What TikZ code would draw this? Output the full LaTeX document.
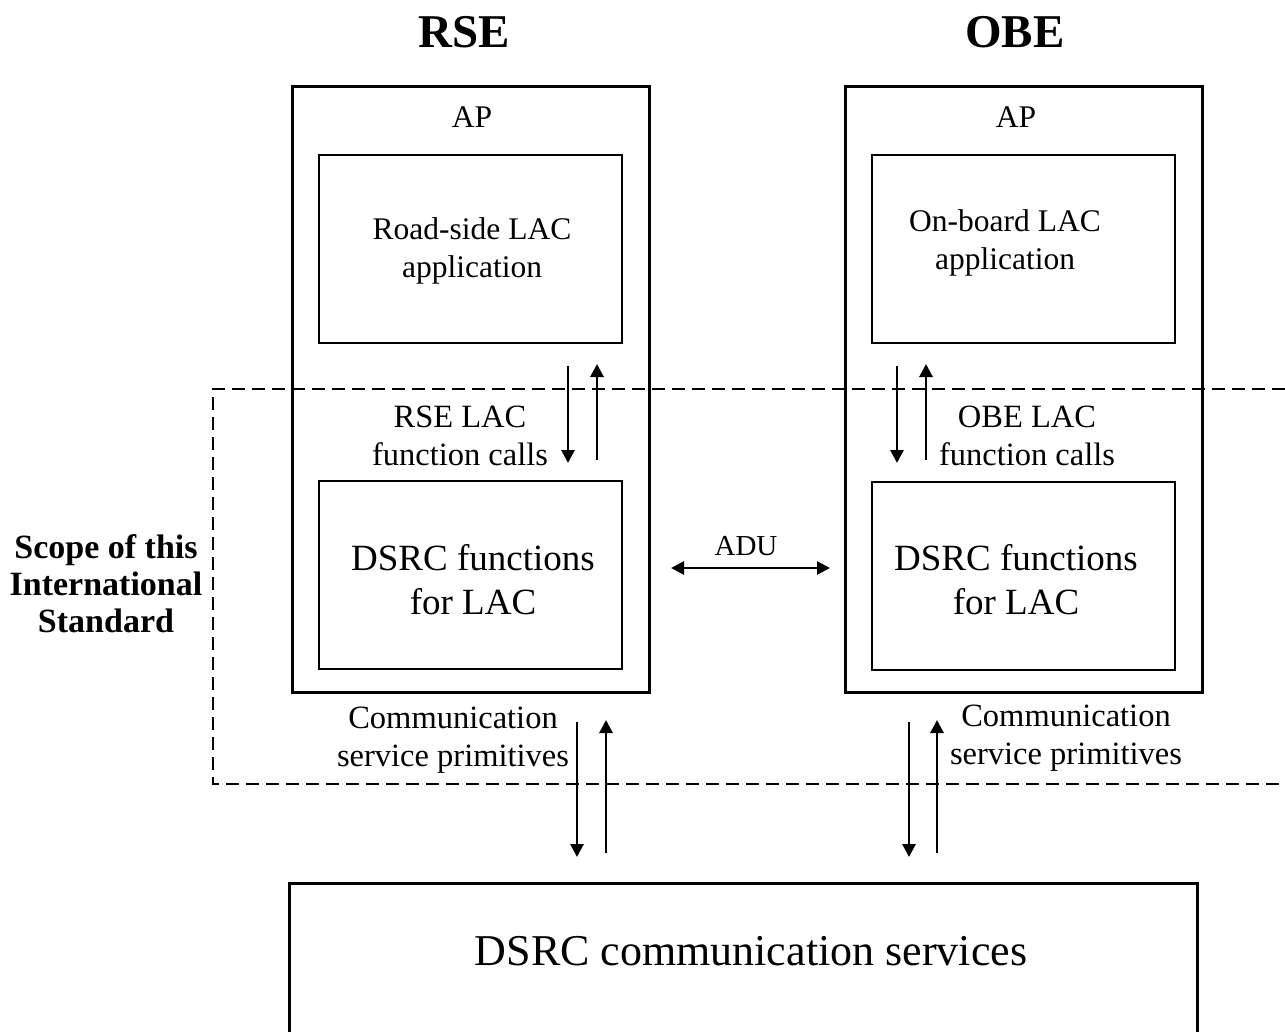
\documentclass[tikz,border=0pt]{standalone}
\usepackage{fontspec}
\setmainfont{Liberation Serif}
\usetikzlibrary{arrows.meta}
\begin{document}
\begin{tikzpicture}[x=1pt,y=-1pt,
  outerbox/.style={draw,line width=3pt,minimum width=357pt,minimum height=605pt,inner sep=0pt},
  innerbox/.style={draw,line width=2pt,minimum width=303pt,minimum height=188pt,inner sep=0pt},
  txt/.style={align=center,inner sep=0pt,font=\fontsize{31.5}{38}\selectfont},
  bigtxt/.style={align=center,inner sep=0pt,font=\fontsize{37}{44}\selectfont},
  title/.style={inner sep=0pt,font=\fontsize{47}{50}\selectfont\bfseries},
  arr/.style={line width=2.8pt,-{Triangle[length=13pt,width=13pt]}},
  dbl/.style={line width=2.8pt,{Triangle[length=13pt,width=13pt]}-{Triangle[length=13pt,width=13pt]}},
  scopeline/.style={line width=1.5pt,dash pattern=on 13pt off 7pt}
]
\useasboundingbox[fill=white] (0,0) rectangle (1285,1032);

% titles
\node[title] (trse) at (464,32) {RSE};
\node[title] (tobe) at (1015,32) {OBE};

% scope dashed frame
\coordinate (s1) at (1285,389);
\coordinate (s2) at (213,389);
\coordinate (s3) at (213,784);
\coordinate (s4) at (1285,784);
\draw[scopeline] (s1) -- (s2) -- (s3) -- (s4);

% RSE side
\node[outerbox] (rse) at (470.5,389.5) {};
\node[txt] (rap) at (472,117) {AP};
\node[innerbox,fill=white] (rapp) at (470.5,249) {};
\node[txt] (rappt) at (472,251) {Road-side LAC\\application};
\node[txt,fill=white,inner sep=1pt,font=\fontsize{32.5}{38}\selectfont] (rcall) at (460,436) {RSE LAC\\function calls};
\node[innerbox] (rdsrc) at (470.5,574.5) {};
\node[bigtxt] (rdsrct) at (473,580) {DSRC functions\\for LAC};

% OBE side
\node[outerbox] (obe) at (1023.5,389.5) {};
\node[txt] (oap) at (1016,117) {AP};
\node[innerbox] (oapp) at (1023.5,249) {};
\node[txt] (oappt) at (1005,243) {On-board LAC\\application};
\node[txt,fill=white,inner sep=1pt,font=\fontsize{32.5}{38}\selectfont] (ocall) at (1027,436) {OBE LAC\\function calls};
\node[innerbox] (odsrc) at (1023.5,575.5) {};
\node[bigtxt] (odsrct) at (1016,580) {DSRC functions\\for LAC};

% upper arrows
\coordinate (ra1) at (568,366); \coordinate (ra2) at (568,463);
\coordinate (ra3) at (597,460); \coordinate (ra4) at (597,364);
\draw[arr] (ra1) -- (ra2);
\draw[arr] (ra3) -- (ra4);
\coordinate (oa1) at (897,366); \coordinate (oa2) at (897,463);
\coordinate (oa3) at (926,460); \coordinate (oa4) at (926,364);
\draw[arr] (oa1) -- (oa2);
\draw[arr] (oa3) -- (oa4);

% ADU
\coordinate (adl) at (671,568); \coordinate (adr) at (830,568);
\draw[dbl] (adl) -- (adr);
\node[txt,font=\fontsize{29}{32}\selectfont] (adu) at (746,546) {ADU};

% lower arrows
\coordinate (rb1) at (577,722); \coordinate (rb2) at (577,857);
\coordinate (rb3) at (606,853); \coordinate (rb4) at (606,720);
\draw[arr] (rb1) -- (rb2);
\draw[arr] (rb3) -- (rb4);
\coordinate (ob1) at (909,722); \coordinate (ob2) at (909,857);
\coordinate (ob3) at (937,853); \coordinate (ob4) at (937,720);
\draw[arr] (ob1) -- (ob2);
\draw[arr] (ob3) -- (ob4);

\node[txt,font=\fontsize{32.5}{38}\selectfont] (rcsp) at (453,740) {Communication\\service primitives};
\node[txt,font=\fontsize{32.5}{38}\selectfont] (ocsp) at (1066,738) {Communication\\service primitives};

% scope label
\node[txt,font=\fontsize{34}{37}\selectfont\bfseries] (scope) at (106,584) {Scope of this\\International\\Standard};

% bottom box (cut by the picture edge)
\coordinate (b1) at (289,1040);
\coordinate (b2) at (289,883);
\coordinate (b3) at (1197,883);
\coordinate (b4) at (1197,1040);
\draw[line width=3pt] (b1) -- (b2) -- (b3) -- (b4);
\node[txt,font=\fontsize{44}{50}\selectfont] (dcs) at (751,951) {DSRC communication services};
\end{tikzpicture}
\end{document}
